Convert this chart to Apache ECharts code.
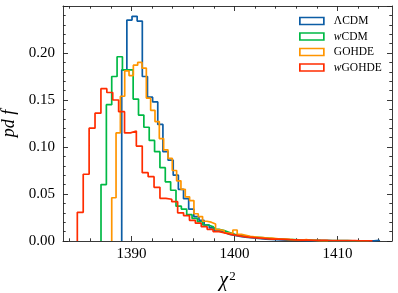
<!DOCTYPE html>
<html><head><meta charset="utf-8">
<script src="https://cdn.jsdelivr.net/npm/echarts@6/dist/echarts.min.js"></script>
<style>html,body{margin:0;padding:0;background:#fff}#c{width:398px;height:293px}</style>
</head><body><div id="c"></div>
<script>
// ---- data ----
const seriesNames = ['ΛCDM', 'wCDM', 'GOHDE', 'wGOHDE'];
const seriesColors = ['#0C5DA5', '#00B945', '#FF9500', '#FF2C00'];

const lcdmStart = 1389.05, lcdmBin = 0.5;
const lcdmValues = [0.182,0.235,0.239,0.234,0.175,0.153,0.148,0.124,0.095,0.086,0.070,0.055,0.045,0.034,0.026,0.022,0.017,0.014,0.011,0.009,0.007,
  0.006,0.005,0.004,0.0035,0.003,0.0025,0.002,0.0018,0.0015,0.0012,0.001,0.001,0.0008,0.0006,0.0005,0.0005,0.0004,0.0003,0.0003,0.0002,0.0002,0.0002,0.0001,0.0001,0.0001,0.0001,0.0001,0.0001,0.0008];

const wcdmStart = 1387.04, wcdmBin = 0.52;
const wcdmValues = [0.060,0.145,0.175,0.196,0.182,0.182,0.151,0.134,0.121,0.107,0.095,0.078,0.063,0.054,0.037,0.034,0.028,0.024,0.0205,0.017,
  0.015,0.0125,0.011,0.009,0.007,0.006,0.005,0.0045,0.004,0.0035,0.003,0.0025,0.002,0.002,0.0015,0.0015,0.0012,0.001,0.001,0.0008,
  0.0006,0.0005,0.0005,0.0004,0.0003,0.0003,0.0002,0.0002,0.0001,0.0001];

const gohdeStart = 1388.08, gohdeBin = 0.42;
const gohdeValues = [0.046,0.115,0.154,0.181,0.176,0.187,0.190,0.184,0.152,0.139,0.127,0.109,0.097,0.088,0.075,0.064,0.055,0.047,0.043,0.029,
  0.026,0.021,0.020,0.018,0.012,0.011,0.0085,0.008,0.0117,0.007,0.006,0.005,0.0045,0.004,0.0035,0.003,0.003,0.0025,0.002,0.002,
  0.0018,0.0015,0.0013,0.001,0.0015,0.0008,0.0006,0.0005,0.0004,0.0003];

const wgohdeStart = 1384.74, wgohdeBin = 0.573;
const wgohdeValues = [0.0305,0.071,0.120,0.136,0.162,0.158,0.150,0.1376,0.115,0.117,0.101,0.0727,0.0684,0.0571,0.0454,0.0444,0.0418,0.030,0.027,0.022,
  0.019,0.0152,0.0124,0.010,0.0085,0.007,0.006,0.005,0.0042,0.0035,0.003,0.0025,0.002,0.002,0.0017,0.0014,0.0012,0.001,0.001,0.0008,
  0.0007,0.0006,0.0005,0.0004,0.0004,0.0003,0.0003,0.0002,0.0002,0.0002];

const xMajorTicks = [1390, 1400, 1410];
const xMinorTicks = [1384,1386,1388,1392,1394,1396,1398,1402,1404,1406,1408,1412,1414];
const xMin = 1383.35, xMax = 1415.29;
const yMin = 0, yMax = 0.25, yStep = 0.05;

// ---- build ----
function stepData(start, width, values) {
  const pts = [[start, 0]];
  values.forEach((v, i) => pts.push([start + i * width, v]));
  pts.push([start + values.length * width, 0]);
  return pts;
}
const hist = [
  stepData(lcdmStart, lcdmBin, lcdmValues),
  stepData(wcdmStart, wcdmBin, wcdmValues),
  stepData(gohdeStart, gohdeBin, gohdeValues),
  stepData(wgohdeStart, wgohdeBin, wgohdeValues)
];

const serif = '"Liberation Serif", "DejaVu Serif", serif';
const axisCol = '#222';
const chart = echarts.init(document.getElementById('c'), null, {renderer: 'canvas'});

function xAxisDef(pos, ticks, len, labels, line, name) {
  return {
    type: 'value', position: pos, min: xMin, max: xMax, gridIndex: 0,
    axisLine: {show: line, onZero: false, lineStyle: {color: axisCol, width: 0.9}},
    axisTick: {show: true, inside: true, length: len, customValues: ticks, lineStyle: {color: axisCol, width: 0.9}},
    axisLabel: {show: labels, customValues: ticks, margin: 6, color: '#000', fontFamily: serif, fontSize: 15,
      formatter: v => String(v)},
    splitLine: {show: false},
    name: name || '', nameLocation: 'middle', nameGap: 29,
    nameTextStyle: {color: '#000', fontFamily: serif, fontSize: 19,
      rich: {i: {fontFamily: serif, fontStyle: 'italic', fontSize: 20, color: '#000'},
             s: {fontFamily: serif, fontSize: 13, color: '#000', verticalAlign: 'top', padding: [0, 0, 9, 1]}}}
  };
}
function yAxisDef(pos, labels, name) {
  return {
    type: 'value', position: pos, min: yMin, max: yMax, interval: yStep, gridIndex: 0,
    axisLine: {show: true, onZero: false, lineStyle: {color: axisCol, width: 0.9}},
    axisTick: {show: true, inside: true, length: 5, lineStyle: {color: axisCol, width: 0.9}},
    minorTick: {show: true, splitNumber: 5, length: 2.7, lineStyle: {color: axisCol, width: 0.9}},
    axisLabel: {show: labels, margin: 8, showMaxLabel: false, color: '#000', fontFamily: serif, fontSize: 15,
      formatter: v => v.toFixed(2)},
    splitLine: {show: false}, minorSplitLine: {show: false},
    name: name || '', nameLocation: 'middle', nameGap: 41,
    nameTextStyle: {color: '#000', fontFamily: serif, fontSize: 18, fontStyle: 'italic'}
  };
}

const option = {
  animation: false,
  backgroundColor: '#fff',
  grid: {left: 63, top: 6, width: 329, height: 235, containLabel: false, outerBoundsMode: 'none'},
  xAxis: [
    xAxisDef('bottom', xMajorTicks, 5, true, true, '{i|χ}{s|2}'),
    xAxisDef('bottom', xMinorTicks, 2.7, false, false),
    xAxisDef('top', xMajorTicks, 5, false, true),
    xAxisDef('top', xMinorTicks, 2.7, false, false)
  ],
  yAxis: [
    yAxisDef('left', true, 'pd f'),
    yAxisDef('right', false)
  ],
  legend: {
    orient: 'vertical', left: 299, top: 15, padding: 0, itemWidth: 24, itemHeight: 7, itemGap: 3.5,
    icon: 'rect',
    data: seriesNames.map((n, i) => ({name: n, itemStyle: {color: '#fff', borderColor: seriesColors[i], borderWidth: 1.7}})),
    formatter: n => n.charAt(0) === 'w' ? '{i|w}{t|' + n.slice(1) + '}' : '{t|' + n + '}',
    textStyle: {color: '#000', fontFamily: serif, fontSize: 11.5, padding: [0, 0, 0, 5],
      rich: {i: {fontFamily: serif, fontStyle: 'italic', fontSize: 11.5, color: '#000', height: 14},
             t: {fontFamily: serif, fontSize: 11.5, color: '#000', height: 14}}}
  },
  series: hist.map((d, i) => ({
    name: seriesNames[i], type: 'line', step: 'end', data: d, xAxisIndex: 0, yAxisIndex: 0,
    symbol: 'none', showSymbol: false, color: seriesColors[i],
    lineStyle: {color: seriesColors[i], width: 1.7}, clip: true, z: 2 + i
  }))
};
chart.setOption(option);
</script></body></html>
